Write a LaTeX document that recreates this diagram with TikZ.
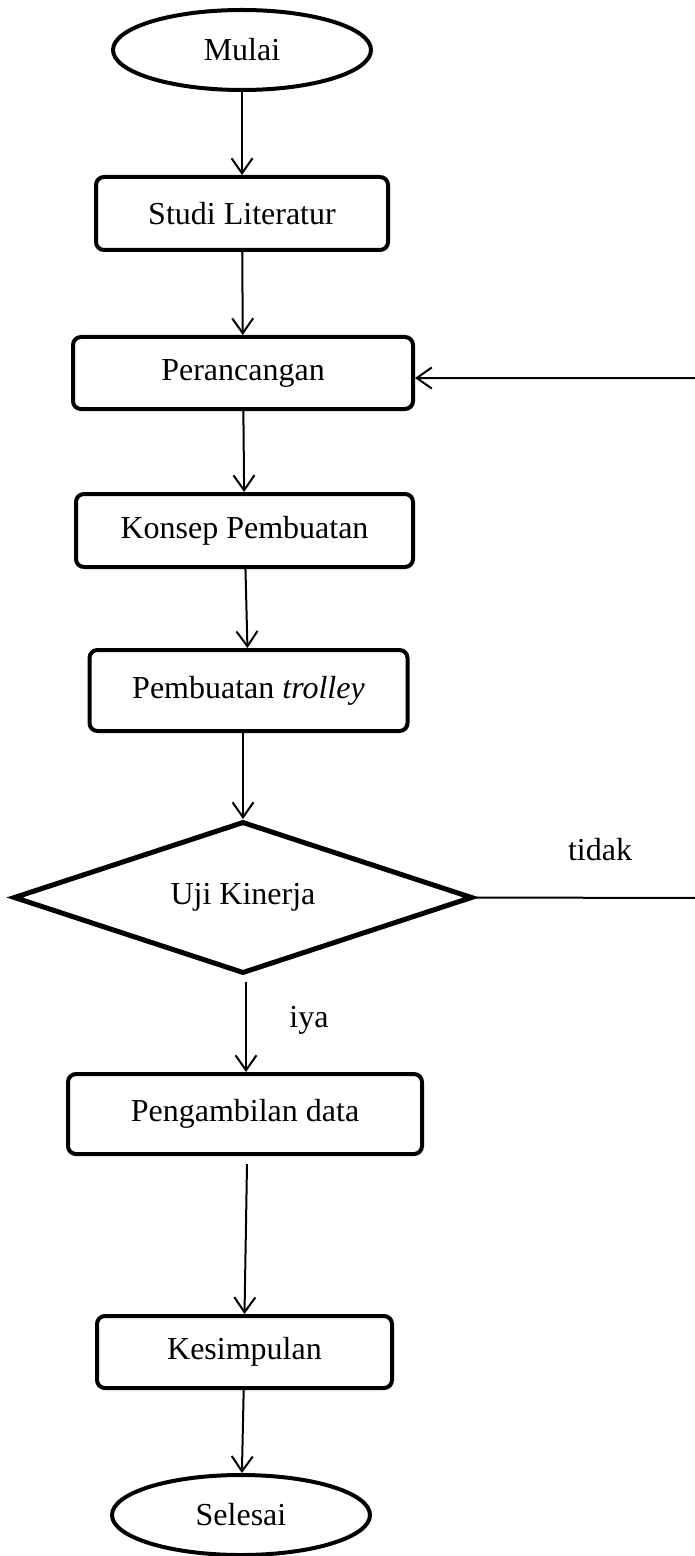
\documentclass[tikz,border=0pt]{standalone}
\usepackage{fontspec}
\setmainfont{Liberation Serif}
\usetikzlibrary{arrows.meta,shapes.geometric}

\begin{document}
\begin{tikzpicture}[x=0.5pt, y=-0.5pt, font=\fontsize{16}{19}\selectfont,
		>={Straight Barb[length=7.5pt, width=10.5pt]},
		terminal/.style={draw, ellipse, line width=2pt, inner sep=0pt, minimum width=129pt, minimum height=40pt},
		proses/.style={draw, rounded corners=4pt, line width=2pt, inner sep=0pt},
		keputusan/.style={draw, diamond, aspect=3, line width=2.5pt, inner sep=0pt, minimum width=229.5pt, minimum height=76pt},
		alur/.style={->, line width=1pt}]
		\useasboundingbox (0,0) rectangle (695,1556);
		% langkah
		\node[terminal] (mulai) at (242,50) {Mulai};
		\node[proses, minimum width=146pt, minimum height=36.5pt] (studi) at (242,213.5) {Studi Literatur};
		\node[proses, minimum width=170pt, minimum height=36pt] (rancang) at (243,373) {Perancangan};
		\node[proses, minimum width=168.5pt, minimum height=36.5pt] (konsep) at (244.5,530.5) {Konsep Pembuatan};
		\node[proses, minimum width=159pt, minimum height=40.5pt] (buat) at (248.5,690.5) {Pembuatan \textit{trolley}};
		\node[keputusan] (uji) at (243,897.5) {Uji Kinerja};
		\node[proses, minimum width=177pt, minimum height=40pt] (ambil) at (245,1114) {Pengambilan data};
		\node[proses, minimum width=147.5pt, minimum height=36pt] (simpul) at (244.5,1352) {Kesimpulan};
		\node[terminal] (selesai) at (241,1515) {Selesai};
		% label
		\node (tidak) at (600,850) {tidak};
		\node (iya) at (309,1020) {iya};
		% panah
		\draw[alur] (mulai) -- (studi);
		\draw[alur] (studi) -- (rancang);
		\draw[alur] (rancang) -- (konsep);
		\draw[alur] (konsep) -- (buat);
		\draw[alur] (buat.south -| uji.north) -- (uji.north);
		\draw[alur] ([xshift=1.5pt, yshift=-3pt]uji.south) -- ([xshift=1.5pt]uji.south |- ambil.north);
		\draw[alur] ([xshift=1pt, yshift=-4pt]ambil.south) -- (simpul.north);
		\draw[alur] (simpul) -- (selesai);
		% kembali ke perancangan
		\coordinate (kanan) at (700,898);
		\draw[alur] (uji.east) -- (kanan) |- ([yshift=-2.5pt]rancang.east);
	\end{tikzpicture}
\end{document}
